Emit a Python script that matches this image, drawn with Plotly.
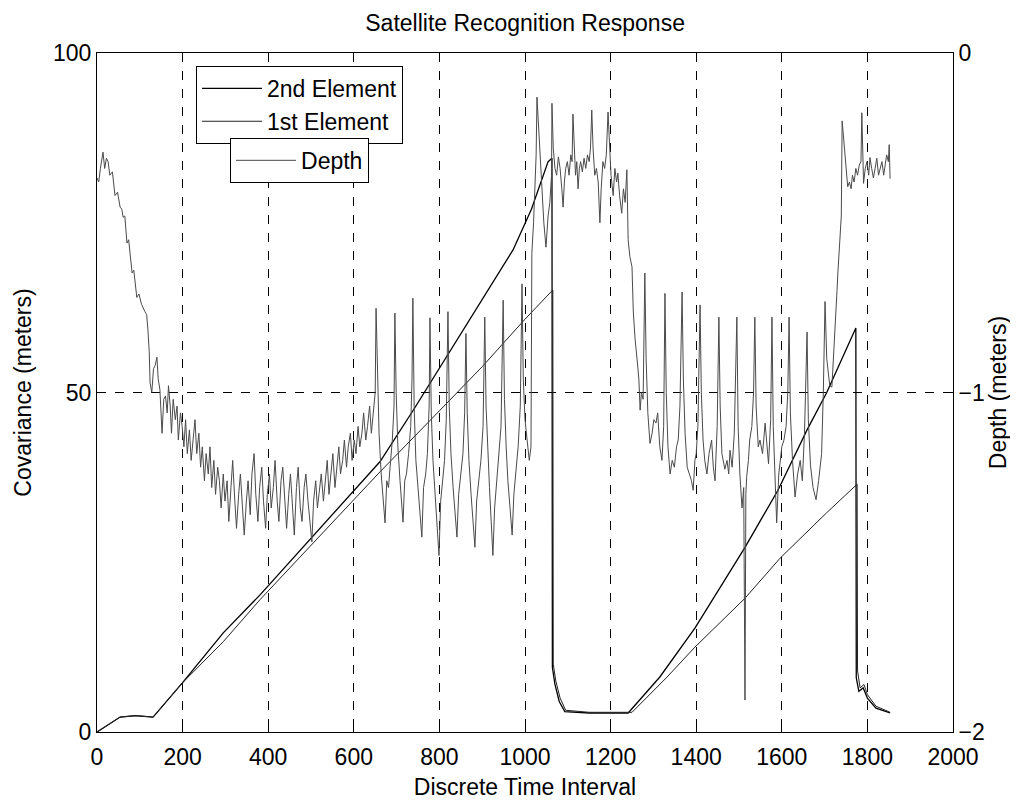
import plotly.graph_objects as go

# ---------------- data ----------------
# Covariance ramps (meters, left axis)
elem2_x = [0, 20, 37, 54, 90, 131, 199, 295, 381, 500, 600, 661, 740, 818, 900, 972, 1015, 1054, 1063,
           1064, 1070, 1080, 1093, 1150, 1241, 1315, 1397, 1514, 1591, 1659, 1705, 1773,
           1774, 1780, 1790, 1800, 1820, 1853]
elem2_cov = [0, 0.8, 1.5, 2.2, 2.4, 2.2, 7.2, 14.6, 20.2, 28.5, 35.5, 39.8, 47.5, 55.4, 63.5, 71, 77, 84, 84.5,
             9.5, 7, 4.5, 3, 2.8, 2.8, 8.1, 15.3, 27.2, 35.6, 44.5, 50, 59.5,
             8, 6, 6.5, 5, 3.5, 2.8]

elem1_x = [0, 20, 37, 54, 90, 131, 199, 295, 381, 500, 661, 800, 900, 1000, 1065,
           1066, 1072, 1082, 1095, 1150, 1250, 1332, 1397, 1514, 1596, 1705, 1776,
           1777, 1783, 1792, 1800, 1820, 1853]
elem1_cov = [0, 0.8, 1.5, 2.2, 2.4, 2.2, 7.2, 13.3, 19.5, 27.5, 38.3, 47.3, 53.8, 60.8, 65.1,
             10, 7.5, 5, 3.2, 2.9, 2.9, 8.1, 12.5, 19.7, 25.6, 32.3, 36.5,
             9, 6.5, 7, 5.5, 3.8, 2.9]

# Depth (meters, right axis)
depth_x = [
    0, 4, 8, 14, 18, 22, 26, 30, 36, 42, 48, 54, 58, 61, 65, 70, 74, 78, 82, 86, 90, 93, 98, 104, 112, 116, 119,
    122, 124, 128, 132, 136, 140, 143, 147, 150, 152, 156, 160, 164, 167, 171, 174, 178, 183, 187, 190, 195, 199,
    203, 207, 211, 216, 220, 225, 229, 233, 238, 242, 246, 251, 255, 260, 264, 268, 273, 277, 282, 286, 290, 295,
    299, 304, 308, 313, 317, 322, 326, 331, 335, 340, 344, 349, 353, 358, 362, 367, 371, 376, 380, 385, 389, 394,
    398, 403, 407, 412, 416, 421, 425, 430, 434, 439, 443, 448, 452, 457, 461, 466, 470, 475, 479, 484, 488, 493,
    497, 502, 506, 511, 515, 520, 524, 529, 533, 538, 542, 547, 551, 556, 560, 565, 569, 574, 578, 583, 587, 592,
    596, 601, 605, 610, 614, 619, 623, 628, 632, 637, 641, 646, 650, 652, 655, 659, 664, 668, 673, 677, 681, 686,
    690, 694, 696, 699, 703, 708, 712, 715, 719, 723, 728, 733, 736, 738, 741, 745, 750, 754, 759, 763, 768, 772,
    776, 778, 781, 785, 790, 794, 799, 803, 808, 812, 816, 820, 823, 827, 832, 836, 841, 845, 850, 855, 859, 862,
    865, 869, 874, 878, 883, 887, 892, 897, 902, 906, 909, 913, 917, 921, 925, 929, 934, 939, 944, 949, 952, 956,
    960, 965, 970, 974, 979, 984, 989, 993, 996, 1000, 1005, 1010, 1014, 1016, 1020, 1023, 1026, 1028, 1031, 1035,
    1039, 1044, 1049, 1054, 1058, 1062, 1063, 1066, 1070, 1074, 1078, 1082, 1086, 1089, 1092, 1095, 1099, 1103,
    1107, 1110, 1112, 1115, 1118, 1121, 1124, 1127, 1130, 1134, 1138, 1142, 1146, 1150, 1153, 1156, 1159, 1163,
    1167, 1171, 1175, 1178, 1182, 1186, 1190, 1194, 1197, 1201, 1206, 1210, 1214, 1217, 1221, 1226, 1230, 1234,
    1238, 1241, 1245, 1250, 1253, 1257, 1262, 1266, 1269, 1272, 1276, 1280, 1283, 1287, 1292, 1297, 1301, 1306,
    1310, 1315, 1320, 1324, 1327, 1330, 1334, 1339, 1344, 1349, 1354, 1358, 1362, 1367, 1370, 1374, 1379, 1384,
    1389, 1393, 1397, 1400, 1404, 1409, 1412, 1416, 1420, 1425, 1430, 1436, 1440, 1444, 1449, 1453, 1456, 1460,
    1467, 1472, 1476, 1479, 1484, 1489, 1495, 1498, 1502, 1507, 1511, 1514, 1516, 1518, 1522, 1525, 1530, 1534,
    1537, 1540, 1545, 1549, 1555, 1561, 1565, 1569, 1574, 1577, 1580, 1584, 1588, 1593, 1600, 1605, 1610, 1614,
    1617, 1620, 1625, 1631, 1637, 1643, 1648, 1653, 1656, 1659, 1662, 1667, 1673, 1680, 1686, 1690, 1693, 1697,
    1701, 1705, 1708, 1712, 1717, 1721, 1725, 1729, 1731, 1735, 1739, 1741, 1745, 1750, 1754, 1758, 1762, 1765,
    1769, 1773, 1777, 1781, 1785, 1787, 1791, 1795, 1799, 1803, 1806, 1810, 1814, 1818, 1822, 1826, 1830, 1834,
    1838, 1842, 1845, 1849, 1851, 1853]
depth_m = [
    -0.368, -0.38, -0.34, -0.292, -0.34, -0.31, -0.32, -0.36, -0.35, -0.42, -0.41, -0.454, -0.46, -0.484, -0.48,
    -0.56, -0.55, -0.60, -0.648, -0.64, -0.70, -0.72, -0.71, -0.74, -0.762, -0.77, -0.816,
    -0.88, -0.972, -1.00, -0.93, -0.92, -0.896, -0.96, -0.992, -1.08, -1.12, -1.02, -1.01, -1.06, -0.98, -1.04,
    -1.12, -1.02, -1.08, -1.04, -1.14, -1.06, -1.10,
    -1.16, -1.08, -1.18, -1.11, -1.20, -1.14, -1.08, -1.18, -1.12, -1.22, -1.16, -1.26, -1.18, -1.24, -1.16, -1.28,
    -1.20, -1.30, -1.22, -1.26, -1.34, -1.24,
    -1.32, -1.26, -1.38, -1.28, -1.20, -1.32, -1.40, -1.30, -1.24, -1.34, -1.42, -1.32, -1.26, -1.36, -1.24, -1.18,
    -1.30, -1.38, -1.28, -1.22, -1.32, -1.40,
    -1.30, -1.24, -1.34, -1.28, -1.20, -1.32, -1.38, -1.26, -1.22, -1.32, -1.40, -1.30, -1.24, -1.34, -1.42, -1.28,
    -1.22, -1.34, -1.38, -1.28, -1.24, -1.32,
    -1.38, -1.44, -1.32, -1.26, -1.34, -1.28, -1.24, -1.32, -1.26, -1.20, -1.30, -1.24, -1.18, -1.28, -1.22, -1.16,
    -1.24, -1.20, -1.14, -1.22, -1.16, -1.12,
    -1.20, -1.14, -1.18, -1.10, -1.16, -1.12, -1.06, -1.14, -1.10, -1.04, -1.12, -1.06, -1.00, -0.752, -0.96, -1.12,
    -1.24, -1.30, -1.384, -1.26, -1.28, -1.20,
    -1.14, -1.04, -0.766, -1.00, -1.16, -1.26, -1.32, -1.382, -1.26, -1.24, -1.18, -1.10, -0.96, -0.722, -1.04,
    -1.20, -1.28, -1.36, -1.426, -1.28, -1.24, -1.18,
    -1.04, -0.78, -1.06, -1.20, -1.30, -1.38, -1.48, -1.32, -1.26, -1.20, -1.08, -0.762, -1.04, -1.18, -1.28, -1.36,
    -1.426, -1.30, -1.24, -1.18, -1.06, -0.826,
    -1.06, -1.20, -1.30, -1.38, -1.456, -1.32, -1.26, -1.20, -1.10, -0.778, -1.04, -1.18, -1.28, -1.38, -1.48, -1.34,
    -1.26, -1.20, -1.10, -0.728, -1.02, -1.16,
    -1.26, -1.34, -1.42, -1.30, -1.24, -1.16, -1.04, -0.68, -0.96, -1.08, -1.14, -1.20, -1.16, -0.59, -0.50, -0.40,
    -0.30, -0.13, -0.20, -0.32,
    -0.38, -0.50, -0.572, -0.48, -0.44, -0.36, -0.148, -0.28, -0.34, -0.36, -0.306, -0.34, -0.40, -0.454, -0.38,
    -0.34, -0.32, -0.36,
    -0.30, -0.32, -0.18, -0.30, -0.36, -0.32, -0.40, -0.34, -0.32, -0.35, -0.31, -0.34, -0.30, -0.32, -0.28, -0.168,
    -0.28, -0.36,
    -0.34, -0.38, -0.50, -0.40, -0.32, -0.34, -0.30, -0.174, -0.28, -0.36, -0.42, -0.34, -0.38, -0.354, -0.42, -0.472,
    -0.40, -0.44,
    -0.344, -0.55, -0.60, -0.63, -0.76, -0.84, -0.904, -0.96, -1.052, -1.00, -1.02, -0.648, -0.90, -1.06, -1.15,
    -1.12, -1.08, -1.09,
    -1.06, -1.16, -1.20, -1.10, -0.708, -1.00, -1.16, -1.24, -1.20, -1.22, -1.16, -1.14, -1.04, -0.704, -0.96, -1.12,
    -1.22, -1.24,
    -1.26, -1.288, -1.20, -1.18, -1.10, -0.742, -1.00, -1.14, -1.20, -1.24, -1.18, -1.14, -1.22, -1.26, -1.10, -0.778,
    -1.04, -1.18,
    -1.226, -1.20, -1.24, -1.17, -1.22, -1.12, -0.778, -1.10, -1.24, -1.34, -1.28, -1.906, -1.30, -1.248, -1.20,
    -1.14, -1.10, -1.00,
    -0.778, -1.04, -1.16, -1.14, -1.18, -1.09, -1.16, -1.21, -1.08, -0.778, -1.10, -1.28, -1.384, -1.24, -1.16,
    -1.14, -1.10, -1.00,
    -0.778, -1.06, -1.20, -1.308, -1.24, -1.20, -1.26, -1.12, -1.00, -0.822, -1.08, -1.214, -1.28, -1.316, -1.26,
    -1.22, -1.18, -1.00,
    -0.732, -0.90, -0.94, -0.98, -0.984, -0.90, -0.80, -0.70, -0.648, -0.542, -0.48, -0.20, -0.26, -0.324, -0.394,
    -0.38, -0.40, -0.36,
    -0.38, -0.34, -0.36, -0.33, -0.32, -0.176, -0.384, -0.34, -0.32, -0.36, -0.308, -0.34, -0.368, -0.34, -0.31,
    -0.36, -0.34, -0.32,
    -0.36, -0.32, -0.30, -0.32, -0.27, -0.37]

x_ticks = [0, 200, 400, 600, 800, 1000, 1200, 1400, 1600, 1800, 2000]
cov_ticks = [0, 50, 100]
depth_ticks = [0, -1, -2]

FONT = "Liberation Sans, Arial, Helvetica, sans-serif"
FS = 23

fig = go.Figure()
fig.add_trace(go.Scatter(x=elem2_x, y=elem2_cov, mode="lines", name="2nd Element",
                         line=dict(color="#000000", width=1.3), legend="legend"))
fig.add_trace(go.Scatter(x=elem1_x, y=elem1_cov, mode="lines", name="1st Element",
                         line=dict(color="#222222", width=1.0), legend="legend"))
fig.add_trace(go.Scatter(x=depth_x, y=depth_m, mode="lines", name="Depth", yaxis="y2",
                         line=dict(color="#4a4a4a", width=1.0), legend="legend2"))

axis_common = dict(showline=True, linecolor="black", linewidth=1, ticks="inside", ticklen=6,
                   tickcolor="black", zeroline=False, automargin=False,
                   tickfont=dict(family=FONT, size=FS, color="black"))

fig.update_layout(
    width=1010, height=798,
    margin=dict(l=89, r=65, t=45, b=74, autoexpand=False),
    paper_bgcolor="white", plot_bgcolor="white",
    font=dict(family=FONT, size=FS, color="black"),
    title=dict(text="Satellite Recognition Response", x=0.512, xanchor="center",
               yref="container", y=0.991, yanchor="top", pad=dict(t=0, b=0),
               font=dict(family=FONT, size=23, color="black")),
    xaxis=dict(range=[0, 2000], tickvals=x_ticks, mirror="ticks", showgrid=True, gridcolor="black",
               griddash="dash", gridwidth=1, ticklabelstandoff=4,
               title=dict(text="Discrete Time Interval", font=dict(family=FONT, size=FS), standoff=10),
               **axis_common),
    yaxis=dict(range=[0, 100], tickvals=cov_ticks, mirror=True, showgrid=True, gridcolor="black",
               griddash="dash", gridwidth=1,
               title=dict(text="Covariance (meters)", font=dict(family=FONT, size=FS), standoff=14),
               **axis_common),
    yaxis2=dict(range=[-2, 0], tickvals=depth_ticks, overlaying="y", side="right", showgrid=False,
                title=dict(text="Depth (meters)", font=dict(family=FONT, size=FS), standoff=6),
                **axis_common),
    legend=dict(x=0.1157, y=0.981, xanchor="left", yanchor="top", bgcolor="white",
                bordercolor="black", borderwidth=1, font=dict(family=FONT, size=FS),
                tracegroupgap=0, itemwidth=60),
    legend2=dict(x=0.1554, y=0.875, xanchor="left", yanchor="top", bgcolor="white",
                 bordercolor="black", borderwidth=1, font=dict(family=FONT, size=FS), itemwidth=60),
    showlegend=True,
)

fig.write_html("out.html")
